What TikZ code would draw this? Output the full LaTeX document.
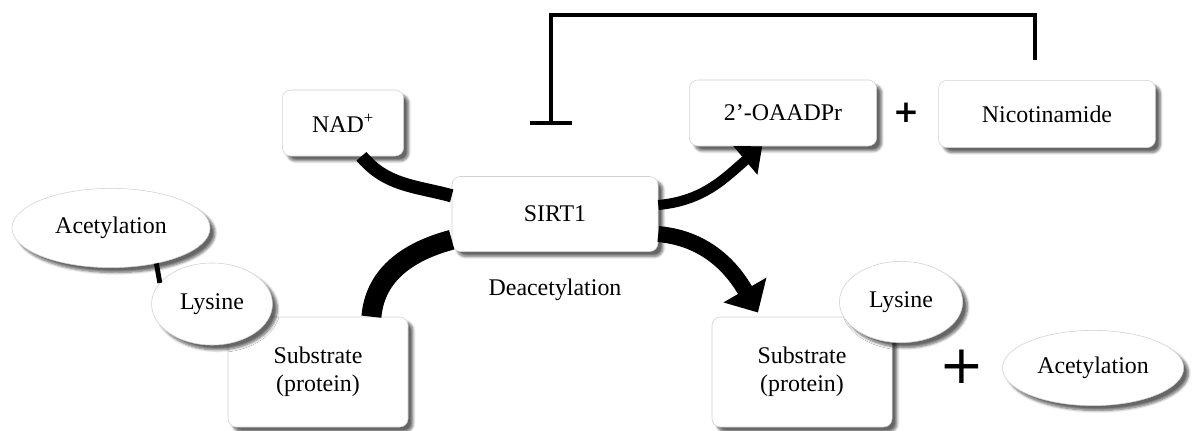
\documentclass[tikz,border=0pt]{standalone}
\usepackage{fontspec}
\setmainfont{Liberation Serif}
\newfontfamily\plusfont{DejaVu Sans}
\usetikzlibrary{arrows.meta,shapes.geometric,shadows.blur,calc}

\begin{document}
\begin{tikzpicture}[x=0.025cm,y=-0.025cm,
  every node/.style={font=\fontsize{17}{20}\selectfont},
  soft/.style={blur shadow={shadow xshift=3.5pt,shadow yshift=-3.5pt,shadow blur steps=6,shadow opacity=60}},
  box/.style={soft,draw=black!18,fill=white,rounded corners=6pt,inner sep=0pt,align=center},
  oval/.style={soft,ellipse,draw=black!18,fill=white,inner sep=0pt},
  flow/.style={line cap=butt},
  inhib/.style={line width=2.8pt,-{Bar[width=1.05cm,line width=3pt]}}]
\useasboundingbox (0,0) rectangle (1200,431);
\node[box,minimum width=3.03cm,minimum height=1.65cm] (nad) at (343,123) {NAD\textsuperscript{+}};
\node[box,minimum width=5.15cm,minimum height=1.875cm] (sirt) at (555,214) {SIRT1};
\node (deac) at (555,290) {Deacetylation};
\node[box,minimum width=4.68cm,minimum height=1.65cm] (oaa) at (783,113) {2’-OAADPr};
\node (plus1) at (906,113) {\plusfont\bfseries\fontsize{22}{22}\selectfont +};
\node[box,minimum width=5.42cm,minimum height=1.68cm] (nico) at (1047,114) {Nicotinamide};
% left: acetylated substrate
\node[box,minimum width=4.5cm,minimum height=2.75cm] (subl) at (318,372) {Substrate\\(protein)};
\node[oval,minimum width=4.95cm,minimum height=1.98cm] (acetl) at (111,228) {Acetylation};
\node[oval,minimum width=3.02cm,minimum height=2.05cm] (lysl) at (212,304) {Lysine};
% right: products
\node[box,minimum width=4.5cm,minimum height=2.75cm] (subr) at (802,372) {Substrate\\(protein)};
\node[oval,minimum width=3.08cm,minimum height=2.03cm] (lysr) at (901,302) {Lysine};
\node (plus2) at (962,367) {\plusfont\fontsize{38}{38}\selectfont +};
\node[oval,minimum width=4.53cm,minimum height=1.88cm] (acetr) at (1093,368) {Acetylation};
\draw[line width=3.5pt] (acetl.-38) -- (lysl.158);
% reaction flows
\draw[flow,line width=0.33cm] (nad.-61) to[out=-50,in=165] (sirt.170);
\draw[flow,line width=0.5cm] (subl.46) to[out=85,in=195] (sirt.194);
\draw[flow,line width=0.25cm,-{Triangle[width=0.9cm,length=0.55cm]}] (sirt.5) to[out=5,in=220] (oaa.-122);
\draw[flow,line width=0.4cm,-{Triangle[width=1.2cm,length=0.65cm]},shorten >=0.12cm] (sirt.-11) to[out=-5,in=120] (subr.127);
% feedback inhibition
\coordinate (nicotop) at ($(nico.north)+(-12,-20)$);
\coordinate (top) at (551,15);
\coordinate (bar) at (551,125);
\draw[inhib] (nicotop) |- (top) -- (bar);
\end{tikzpicture}
\end{document}
